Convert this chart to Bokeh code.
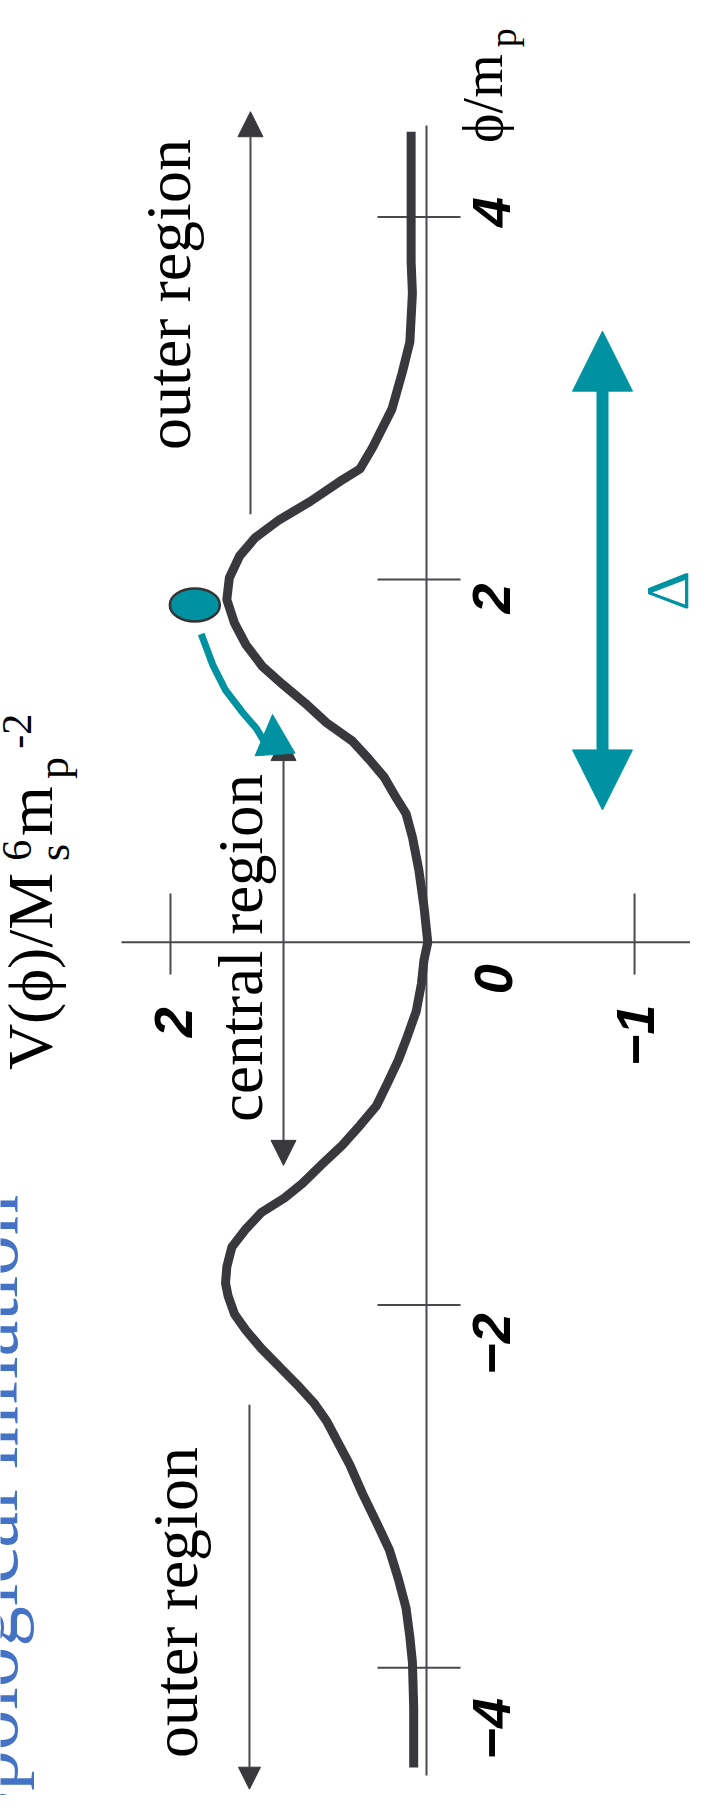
from math import pi
from bokeh.plotting import figure
from bokeh.models import Range1d, Label, Arrow, NormalHead, ColumnDataSource
from bokeh.core.properties import value
from bokeh.embed import file_html
from bokeh.resources import INLINE

# ---------------- data ----------------
# potential curve V(phi)/Ms^6 mp^-2 against phi/mp
PHI = [4.47, 4.06, 3.75, 3.58, 3.31, 3.14, 2.94, 2.73, 2.61, 2.54,
       2.43, 2.33, 2.23, 2.13, 2.01, 1.89, 1.76, 1.64, 1.52, 1.42,
       1.32, 1.21, 1.11, 1.01, 0.91, 0.80, 0.71, 0.58, 0.40, 0.20,
       0.00, -0.10, -0.23, -0.38, -0.52, -0.65, -0.77, -0.90, -1.01, -1.12,
       -1.22, -1.33, -1.41, -1.49, -1.58, -1.68, -1.79, -1.88, -1.95, -2.05,
       -2.14, -2.24, -2.34, -2.44, -2.54, -2.64, -2.76, -2.88, -3.04, -3.20,
       -3.35, -3.51, -3.67, -3.83, -3.97, -4.22, -4.55]
V = [0.12, 0.12, 0.12, 0.11, 0.13, 0.19, 0.27, 0.42, 0.52, 0.68,
     0.91, 1.15, 1.34, 1.46, 1.54, 1.56, 1.50, 1.41, 1.28, 1.12,
     0.95, 0.78, 0.58, 0.45, 0.33, 0.24, 0.16, 0.11, 0.06, 0.02,
     -0.01, 0.02, 0.04, 0.08, 0.15, 0.22, 0.30, 0.39, 0.52, 0.66,
     0.81, 0.97, 1.11, 1.29, 1.41, 1.52, 1.56, 1.57, 1.55, 1.50,
     1.41, 1.29, 1.15, 1.01, 0.88, 0.78, 0.69, 0.60, 0.50, 0.39,
     0.29, 0.22, 0.16, 0.13, 0.11, 0.10, 0.10]

PHI_TICKS = [4, 2, -2, -4]
PHI_TICK_LABELS = ["4", "2", "\u22122", "\u22124"]
V_TICKS_POS = [2]
V_TICKS_POS_LABELS = ["2"]
V_TICKS_NEG = [-1]
V_TICKS_NEG_LABELS = ["\u22121"]
ORIGIN_LABEL = ["0"]

# the field sitting on top of the potential and its roll-off path
BALL_V = [1.81]
BALL_PHI = [1.86]
ROLL_V = [1.76, 1.67, 1.57, 1.44, 1.33, 1.27]
ROLL_PHI = [1.70, 1.53, 1.39, 1.27, 1.18, 1.11]

# region extents along phi
OUTER_TOP = [2.36, 4.58]
OUTER_BOTTOM = [-2.55, -4.67]
CENTRAL = [-1.23, 1.14]
DELTA = [0.73, 3.37]

# ---------------- styling / layout ----------------
W, H = 690, 1795
DARK = "#39383d"
AXC = "#4a494e"
TEAL = "#0092a0"
BLUE = "#4472c4"
SERIF = "Liberation Serif"
SANS = "Liberation Sans"

p = figure(width=W, height=H,
           x_range=Range1d(3.328, -2.0625),      # V grows to the left (page is rotated)
           y_range=Range1d(-4.7047, 5.1933),
           output_backend="svg", toolbar_location=None,
           x_axis_location=None, y_axis_location=None,
           min_border=0, outline_line_color=None,
           background_fill_color="white", border_fill_color="white")
p.xgrid.visible = False
p.ygrid.visible = False
p.extra_x_ranges = {"neg": Range1d(2.048, -1.269)}   # hand-drawn axis: negative side is stretched

# axes drawn through the origin
p.segment(x0=[0], y0=[4.504], x1=[0], y1=[-4.594], line_color=AXC, line_width=2)
p.segment(x0=[2.383], y0=[0], x1=[-2.3], y1=[0], line_color=AXC, line_width=2)

# phi ticks
p.segment(x0=[0.383] * len(PHI_TICKS), y0=PHI_TICKS,
          x1=[-0.266] * len(PHI_TICKS), y1=PHI_TICKS, line_color=AXC, line_width=2)
# V ticks
p.segment(x0=V_TICKS_POS, y0=[0.269], x1=V_TICKS_POS, y1=[-0.178], line_color=AXC, line_width=2)
p.segment(x0=V_TICKS_NEG, y0=[0.269], x1=V_TICKS_NEG, y1=[-0.178], line_color=AXC, line_width=2,
          x_range_name="neg")

# tick labels (offsets in px; rotated text needs a small correction)
DX, DY = -16, 8
nudge = {4: -13, 2: 11, -2: 31, -4: 53}
src_phi = ColumnDataSource(dict(x=[0] * len(PHI_TICKS), y=PHI_TICKS, text=PHI_TICK_LABELS,
                                yoff=[nudge[t] + DY for t in PHI_TICKS]))
tick_style = dict(angle=pi / 2, text_font=value(SANS), text_font_style="bold italic",
                  text_font_size="54px", text_color="black", text_baseline="alphabetic",
                  text_align="center")
p.text(x="x", y="y", text="text", source=src_phi, x_offset=81 + DX, y_offset="yoff", **tick_style)
p.text(x=[0], y=[0], text=ORIGIN_LABEL, x_offset=83 + DX, y_offset=29 + DY, **tick_style)
p.text(x=V_TICKS_POS, y=[0], text=V_TICKS_POS_LABELS, x_offset=19 + DX, y_offset=72 + DY,
       **tick_style)
p.text(x=V_TICKS_NEG, y=[0], text=V_TICKS_NEG_LABELS, x_offset=17 + DX, y_offset=85 + DY,
       x_range_name="neg", **tick_style)

# region arrows
def head(size, color):
    return NormalHead(size=size, fill_color=color, line_color=color, line_width=1)

p.add_layout(Arrow(x_start=1.375, y_start=OUTER_TOP[0], x_end=1.375, y_end=OUTER_TOP[1],
                   end=head(25, DARK), line_color=AXC, line_width=2))
p.add_layout(Arrow(x_start=1.383, y_start=OUTER_BOTTOM[0], x_end=1.383, y_end=OUTER_BOTTOM[1],
                   end=head(22, DARK), line_color=AXC, line_width=2))
p.add_layout(Arrow(x_start=1.117, y_start=CENTRAL[0], x_end=1.117, y_end=CENTRAL[1],
                   start=head(25, DARK), end=head(25, DARK), line_color=AXC, line_width=2))

# the potential
p.line(V, PHI, line_color=DARK, line_width=9, line_join="round", line_cap="butt")

# roll-off path of the field
p.line(ROLL_V, ROLL_PHI, line_color=TEAL, line_width=7, line_cap="butt", line_join="round")
p.add_layout(Arrow(x_start=1.164, y_start=0.83, x_end=1.203, y_end=1.256,
                   end=head(40, TEAL), line_alpha=0))
p.ellipse(x=BALL_V, y=BALL_PHI, width=50, height=33, width_units="screen",
          height_units="screen", fill_color=TEAL, line_color="#333338", line_width=2.5)

# Delta double arrow
p.segment(x0=[-1.375], y0=[DELTA[0] + 0.33], x1=[-1.375], y1=[DELTA[1] - 0.33],
          line_color=TEAL, line_width=12, line_cap="butt")
p.add_layout(Arrow(x_start=-1.375, y_start=DELTA[0], x_end=-1.375, y_end=DELTA[1],
                   start=head(60, TEAL), end=head(60, TEAL), line_alpha=0))

# ---------------- texts (screen placement) ----------------
def lab(text, X, Y, size, align="left", color="black", font=SERIF, style="normal"):
    X = X - 0.29 * size
    Y = Y + 0.15 * size
    p.add_layout(Label(x=X - 8, y=(H + 8) - Y, x_units="screen", y_units="screen",
                       text=text, angle=pi / 2, text_font=font, text_font_size=f"{size}px",
                       text_align=align, text_baseline="alphabetic", text_color=color,
                       text_font_style=style))

lab("Topological inflation", 21, 1190, 81, align="right", color=BLUE)
lab("outer region", 195, 448, 64)
lab("outer region", 202, 1756, 64)
lab("central region", 267, 1120, 63)

# y label V(phi)/Ms^6 mp^-2
lab("V(\u03d5)/M", 57, 1068, 64)
lab("s", 75, 862, 44)
lab("6", 37, 862, 42)
lab("m", 57, 834, 64)
lab("p", 74, 780, 44)
lab("-2", 37, 750, 42)

# x label phi/mp
lab("\u03d5/m", 507, 142, 56)
lab("p", 522, 49, 38)

lab("\u0394", 692, 609, 62, color=TEAL)

open("out.html", "w").write(file_html(p, INLINE))
